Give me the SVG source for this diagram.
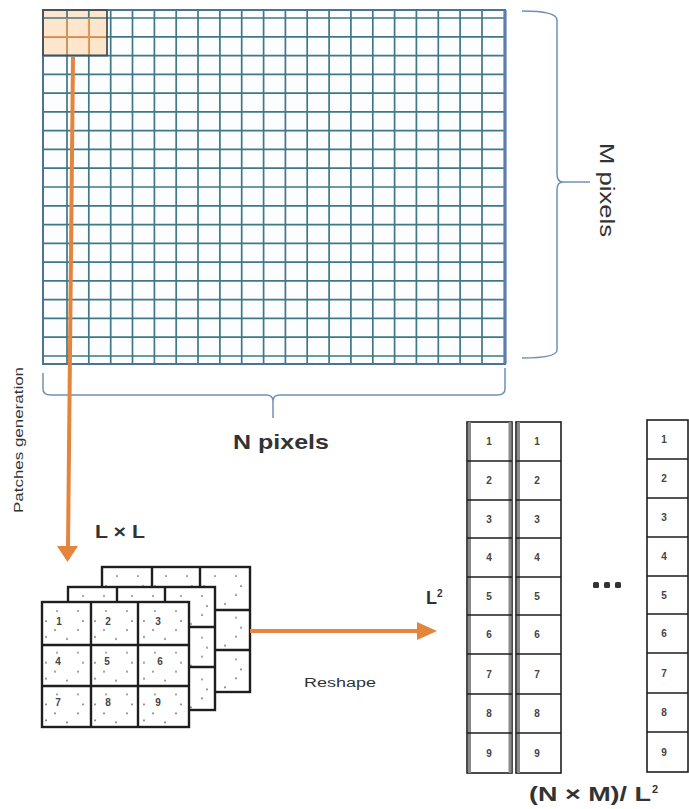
<svg xmlns="http://www.w3.org/2000/svg" width="689" height="809" viewBox="0 0 689 809">
  <defs>
    <style>
      .grid { stroke: #3f7886; stroke-width: 1.7; fill: none; }
      .frame { stroke: #4d7393; stroke-width: 2; fill: none; }
      .brace { stroke: #6f90b8; stroke-width: 1.5; fill: none; }
      .flow { stroke: #e5843c; stroke-width: 4; fill: none; }
      .head { fill: #e5843c; }
      .cell { stroke: #1e1e1e; stroke-width: 2.4; fill: url(#dots); }
      .col { stroke: #1e1e1e; stroke-width: 1.6; fill: #ffffff; }
      .shade { stroke: #8a8a8a; stroke-width: 3; }
      .lbl { font-family: "Liberation Sans", Arial, sans-serif; fill: #333333; }
      .b { font-weight: bold; }
      .num { font-family: "Liberation Sans", Arial, sans-serif; font-size: 10px; font-weight: bold; fill: #444444; text-anchor: middle; dominant-baseline: central; }
    </style>
    <pattern id="dots" patternUnits="userSpaceOnUse" width="49" height="41.7">
      <rect width="49" height="41.7" fill="#ffffff"/>
      <g fill="#6a6a6a">
        <circle cx="15" cy="9" r="0.9"/>
        <circle cx="36" cy="9" r="0.9"/>
        <circle cx="41" cy="19" r="0.9"/>
        <circle cx="4" cy="19" r="0.9"/>
        <circle cx="13" cy="28" r="0.9"/>
        <circle cx="36" cy="28" r="0.9"/>
        <circle cx="25" cy="37" r="0.9"/>
        <circle cx="4" cy="35" r="0.9"/>
      </g>
    </pattern>
  </defs>

  <rect width="689" height="809" fill="#ffffff"/>

  <!-- image grid: N columns by M rows -->
  <g id="image-grid">
    <rect x="43" y="10" width="462" height="354" fill="#fbfdff"/>
    <!-- highlighted L x L patch -->
    <rect x="43" y="10" width="64" height="45.5" fill="#fde6cc"/>
    <path class="grid" d="M67,10V364 M88.8,10V364 M110.7,10V364 M132.5,10V364 M154.4,10V364 M176.2,10V364 M198,10V364 M219.9,10V364 M241.7,10V364 M263.6,10V364 M285.4,10V364 M307.2,10V364 M329.1,10V364 M350.9,10V364 M372.8,10V364 M394.6,10V364 M416.4,10V364 M438.3,10V364 M460.1,10V364 M482,10V364"/>
    <path class="grid" d="M43,18H505 M43,36.8H505 M43,55.6H505 M43,74.3H505 M43,93.1H505 M43,111.9H505 M43,130.7H505 M43,149.4H505 M43,168.2H505 M43,187H505 M43,205.8H505 M43,224.6H505 M43,243.3H505 M43,262.1H505 M43,280.9H505 M43,299.7H505 M43,318.4H505 M43,337.2H505 M43,356H505"/>
    <path d="M67,18V55 M88.8,18V55 M43,36.8H107" stroke="#e39a5c" stroke-width="1.6" fill="none"/>
    <rect class="frame" x="43" y="10" width="462" height="354"/>
    <path d="M505,10V364" stroke="#5a7fae" stroke-width="3.2"/>
    <rect x="43" y="10" width="64" height="45.5" fill="none" stroke="#4a4f58" stroke-width="1.8"/>
  </g>

  <!-- dimension braces -->
  <g id="brace-m">
    <path class="brace" d="M522,11 Q557,11 557,20 V174 Q557,182 563,182 H590 M563,182 Q557,182 557,190 V350 Q557,358 522,358"/>
    <text class="lbl" x="607" y="190" font-size="21" text-anchor="middle" dominant-baseline="central" textLength="94" lengthAdjust="spacingAndGlyphs" transform="rotate(90 607 190)">M pixels</text>
  </g>
  <g id="brace-n">
    <path class="brace" d="M43,373 V389 Q43,395 51,395 H266 Q273,395 273,401 V418 M273,401 Q273,395 280,395 H497 Q505,395 505,389 V368"/>
    <text class="lbl b" x="281" y="449" font-size="21" text-anchor="middle" textLength="96" lengthAdjust="spacingAndGlyphs">N pixels</text>
  </g>

  <!-- stack of L x L patches -->
  <g id="patch-back" transform="translate(102 567)">
    <rect class="cell" x="0" y="0" width="148" height="125"/>
    <path d="M50,0V125 M98,0V125 M0,43H148 M0,83H148" stroke="#1e1e1e" stroke-width="2.4"/>
  </g>
  <g id="patch-middle" transform="translate(68 587)">
    <rect class="cell" x="0" y="0" width="147" height="123"/>
    <path d="M49,0V123 M97,0V123 M0,40H147 M0,80H147" stroke="#1e1e1e" stroke-width="2.4"/>
  </g>
  <g id="patch-front" transform="translate(42 602)">
    <rect class="cell" x="0" y="0" width="147" height="125"/>
    <path d="M49,0V125 M96,0V125 M0,43H147 M0,84H147" stroke="#1e1e1e" stroke-width="2.4"/>
    <text class="num" x="17" y="19">1</text>
    <text class="num" x="66" y="19">2</text>
    <text class="num" x="116" y="19">3</text>
    <text class="num" x="16" y="59">4</text>
    <text class="num" x="65" y="59">5</text>
    <text class="num" x="118" y="59">6</text>
    <text class="num" x="16" y="100">7</text>
    <text class="num" x="66" y="100">8</text>
    <text class="num" x="116" y="100">9</text>
  </g>
  <text class="lbl b" x="95" y="538" font-size="18" textLength="50" lengthAdjust="spacingAndGlyphs">L × L</text>

  <!-- reshaped columns of L² values -->
  <g id="column-1">
    <rect class="col" x="467" y="422" width="45" height="351"/>
    <path class="shade" d="M469.5,422V773 M510,422V773"/>
    <path d="M467,461H512 M467,500H512 M467,538H512 M467,577H512 M467,615H512 M467,654H512 M467,694H512 M467,733H512" stroke="#1e1e1e" stroke-width="1.6"/>
    <text class="num" x="489" y="441">1</text>
    <text class="num" x="489" y="480">2</text>
    <text class="num" x="489" y="519">3</text>
    <text class="num" x="489" y="557">4</text>
    <text class="num" x="489" y="596">5</text>
    <text class="num" x="489" y="634">6</text>
    <text class="num" x="489" y="674">7</text>
    <text class="num" x="489" y="713">8</text>
    <text class="num" x="489" y="753">9</text>
  </g>
  <g id="column-2">
    <rect class="col" x="516" y="422" width="45" height="351"/>
    <path class="shade" d="M518.5,422V773"/>
    <path d="M516,461H561 M516,500H561 M516,538H561 M516,577H561 M516,615H561 M516,654H561 M516,694H561 M516,733H561" stroke="#1e1e1e" stroke-width="1.6"/>
    <text class="num" x="537" y="441">1</text>
    <text class="num" x="537" y="480">2</text>
    <text class="num" x="537" y="519">3</text>
    <text class="num" x="537" y="557">4</text>
    <text class="num" x="537" y="596">5</text>
    <text class="num" x="537" y="634">6</text>
    <text class="num" x="537" y="674">7</text>
    <text class="num" x="537" y="713">8</text>
    <text class="num" x="537" y="753">9</text>
  </g>
  <g id="column-last">
    <rect class="col" x="647" y="420" width="41" height="352"/>
    <path d="M647,459H688 M647,498H688 M647,537H688 M647,576H688 M647,614H688 M647,653H688 M647,693H688 M647,732H688" stroke="#1e1e1e" stroke-width="1.6"/>
    <text class="num" x="664" y="439">1</text>
    <text class="num" x="664" y="478">2</text>
    <text class="num" x="664" y="517">3</text>
    <text class="num" x="664" y="556">4</text>
    <text class="num" x="664" y="595">5</text>
    <text class="num" x="664" y="633">6</text>
    <text class="num" x="664" y="673">7</text>
    <text class="num" x="664" y="712">8</text>
    <text class="num" x="664" y="752">9</text>
  </g>
  <g id="ellipsis" fill="#333333">
    <rect x="593" y="582" width="6" height="6" rx="1.5"/>
    <rect x="604" y="582" width="6" height="6" rx="1.5"/>
    <rect x="615" y="582" width="6" height="6" rx="1.5"/>
  </g>
  <text class="lbl b" x="426" y="604" font-size="18">L<tspan font-size="10" dy="-7">2</tspan></text>
  <text class="lbl b" x="529" y="801" font-size="20" textLength="122" lengthAdjust="spacingAndGlyphs">(N × M)/ L</text>
  <text class="lbl b" x="652" y="793" font-size="11">2</text>

  <!-- connectors -->
  <g id="connectors">
    <path class="flow" d="M73,57 L68,548"/>
    <polygon class="head" points="57,546 78,546 67.5,562"/>
    <path class="flow" d="M250,631 H420"/>
    <polygon class="head" points="417,622 437,631 417,640"/>
  </g>
  <text class="lbl" x="19" y="440" font-size="12" text-anchor="middle" dominant-baseline="central" textLength="146" lengthAdjust="spacingAndGlyphs" transform="rotate(-90 19 440)">Patches generation</text>
  <text class="lbl" x="304" y="687" font-size="12" fill="#555555" textLength="72" lengthAdjust="spacingAndGlyphs">Reshape</text>
</svg>
